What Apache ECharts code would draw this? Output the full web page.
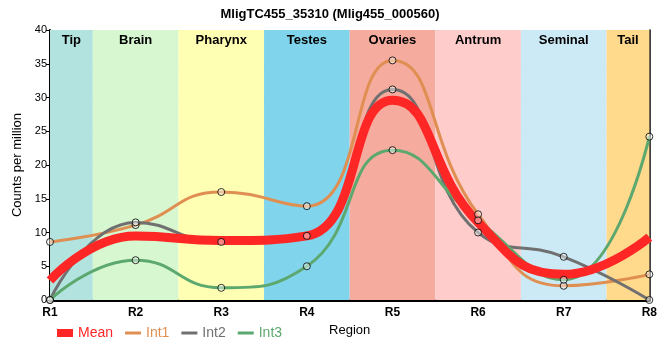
<!DOCTYPE html>
<html>
<head>
<meta charset="utf-8">
<script src="https://cdn.jsdelivr.net/npm/echarts@6/dist/echarts.min.js"></script>
<style>html,body{margin:0;padding:0;background:#fff}#c{width:660px;height:360px}</style>
</head>
<body>
<div id="c"></div>
<script>
const categories = ['R1','R2','R3','R4','R5','R6','R7','R8'];
const meanVals = [2.9, 9.5, 8.8, 9.5, 29.6, 11.5, 3.8, 9.3];
const int1Vals = [8.6, 11.1, 16.0, 13.9, 35.5, 12.7, 2.1, 3.8];
const int2Vals = [0, 11.5, 8.6, 9.5, 31.2, 10.0, 6.4, 0];
const int3Vals = [0, 5.9, 1.8, 5.0, 22.2, 11.8, 3.0, 24.2];
const bandNames = ['Tip','Brain','Pharynx','Testes','Ovaries','Antrum','Seminal','Tail'];
const bandStart = [0, 0.5, 1.5, 2.5, 3.5, 4.5, 5.5, 6.5];
const bandEnd = [0.5, 1.5, 2.5, 3.5, 4.5, 5.5, 6.5, 7];
const bandColors = ['#b3e3de','#d6f7cf','#ffffb3','#80d4eb','#f5ab9e','#ffcccc','#cceaf5','#ffd98c'];
const yTicks = [0, 5, 10, 15, 20, 25, 30, 35, 40];

const colMean = '#ff2626', colI1 = '#e08f52', colI2 = '#707070', colI3 = '#5ca86e';
const font = 'Liberation Sans, Arial, sans-serif';
const lineIcon = 'path://M0,0H16V3H0Z';

const bandData = bandNames.map((n, i) => [
  {name: n, xAxis: bandStart[i], itemStyle: {color: bandColors[i]}},
  {xAxis: bandEnd[i]}
]);

function lineSeries(name, vals, color, width, z) {
  return {
    name, type: 'line', data: vals, smooth: 0.5, symbol: 'none', showSymbol: false, z,
    lineStyle: {color, width}, itemStyle: {color}
  };
}
function markerSeries(vals) {
  return {
    type: 'scatter', data: vals, symbol: 'circle', symbolSize: 7, z: 5, silent: true,
    itemStyle: {color: 'rgba(255,255,255,0.55)', borderColor: '#000', borderWidth: 1}
  };
}

const chart = echarts.init(document.getElementById('c'), null, {renderer: 'canvas'});
chart.setOption({
  animation: false,
  title: {
    text: 'MligTC455_35310 (Mlig455_000560)', left: 'center', top: 3,
    textStyle: {fontFamily: font, fontSize: 13, fontWeight: 'bold', color: '#000'}
  },
  grid: {left: 50, right: 9, top: 30, bottom: 60},
  legend: {
    left: 52, top: 321, itemWidth: 16, itemHeight: 8, itemGap: 12, symbolKeepAspect: true,
    textStyle: {fontFamily: font, fontSize: 14},
    data: [
      {name: 'Mean', icon: 'rect', textStyle: {color: colMean}},
      {name: 'Int1', icon: lineIcon, textStyle: {color: colI1}},
      {name: 'Int2', icon: lineIcon, textStyle: {color: colI2}},
      {name: 'Int3', icon: lineIcon, textStyle: {color: colI3}}
    ]
  },
  xAxis: [
    {
      type: 'category', data: categories, boundaryGap: false,
      name: 'Region', nameLocation: 'middle', nameGap: 23,
      nameTextStyle: {fontFamily: font, fontSize: 13, color: '#000'},
      axisLine: {lineStyle: {color: '#000', width: 3}},
      axisTick: {show: false},
      axisLabel: {fontFamily: font, fontSize: 12, fontWeight: 'bold', color: '#000', margin: 7},
      splitLine: {show: true, lineStyle: {color: '#cccccc', width: 1}}
    },
    {
      type: 'value', min: 0, max: 7, position: 'top',
      axisLine: {show: true, lineStyle: {color: '#000', width: 1.5}},
      axisTick: {show: false}, axisLabel: {show: false}, splitLine: {show: false}
    }
  ],
  yAxis: [
    {
      type: 'value', min: 0, max: 40, interval: 5,
      name: 'Counts per million', nameLocation: 'middle', nameGap: 21,
      nameTextStyle: {fontFamily: font, fontSize: 13, color: '#000'},
      axisLine: {show: true, lineStyle: {color: '#000', width: 2}},
      axisTick: {show: true, length: 4, lineStyle: {color: '#000'}},
      axisLabel: {fontFamily: font, fontSize: 11, color: '#000', margin: 3,
        formatter: v => yTicks.includes(v) ? String(v) : ''},
      splitLine: {show: true, lineStyle: {color: '#cccccc', width: 1}}
    },
    {
      type: 'value', min: 0, max: 40, position: 'right',
      axisLine: {show: true, lineStyle: {color: '#000', width: 1.5}},
      axisTick: {show: false}, axisLabel: {show: false}, splitLine: {show: false}
    }
  ],
  series: [
    {
      type: 'line', xAxisIndex: 1, yAxisIndex: 0, data: [], z: 0, silent: true,
      markArea: {
        silent: true,
        label: {show: true, position: 'insideTop', distance: 4, fontFamily: font,
          fontSize: 13, fontWeight: 'bold', color: '#000'},
        data: bandData
      }
    },
    lineSeries('Int1', int1Vals, colI1, 3, 2),
    lineSeries('Int2', int2Vals, colI2, 3, 2),
    lineSeries('Int3', int3Vals, colI3, 3, 2),
    lineSeries('Mean', meanVals, colMean, 9, 3),
    markerSeries(int1Vals),
    markerSeries(int2Vals),
    markerSeries(int3Vals)
  ]
});
</script>
</body>
</html>
